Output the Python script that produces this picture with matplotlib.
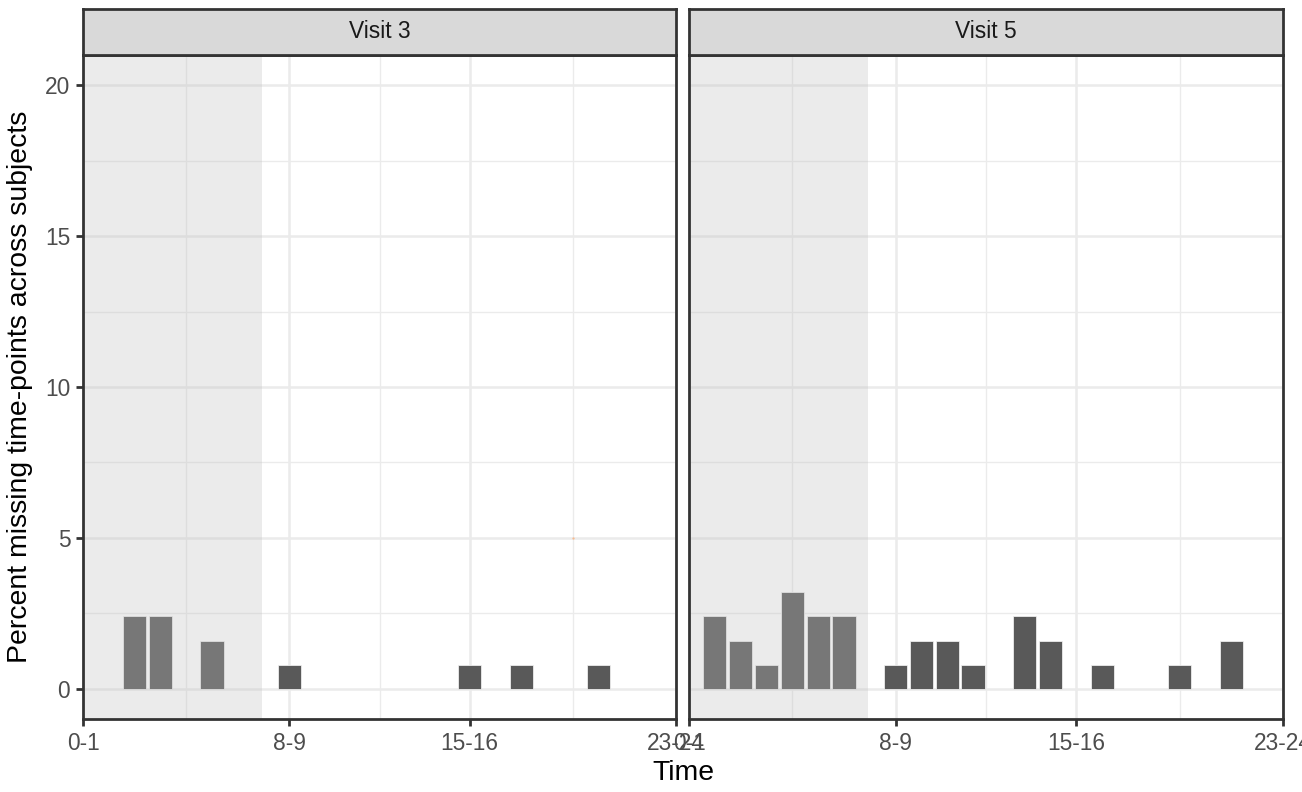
import matplotlib
matplotlib.use("Agg")
import matplotlib.pyplot as plt
import numpy as np

plt.rcParams['font.family'] = ['Liberation Sans', 'DejaVu Sans']

# ---- data ----
panels = ["Visit 3", "Visit 5"]
hours_v3 = [2, 3, 5, 8, 15, 17, 20]
pct_v3 = [2.4, 2.4, 1.6, 0.8, 0.8, 0.8, 0.8]
hours_v5 = [1, 2, 3, 4, 5, 6, 8, 9, 10, 11, 13, 14, 16, 19, 21]
pct_v5 = [2.4, 1.6, 0.8, 3.2, 2.4, 2.4, 0.8, 1.6, 1.6, 0.8, 2.4, 1.6, 0.8, 0.8, 1.6]
tick_hours = [0, 8, 15, 23]
tick_labels = ["0-1", "8-9", "15-16", "23-24"]
minor_hours = [4, 11.5, 19]
shade_end = 6.93
stray_point = (19, 5)

W, H = 1302, 792
DPI = 186
fig = plt.figure(figsize=(W / DPI, H / DPI), dpi=DPI)

def fx(px):
    return px / W

def fy(py):
    return 1 - py / H

grey20 = "#333333"
grey30 = "#4D4D4D"
grey92 = "#EBEBEB"
grey85 = "#D9D9D9"
lw_border = 1.07
panel_x = [(83, 676), (689, 1283)]
ptop, pbot = 55, 719
stop = 9

data = [(hours_v3, pct_v3), (hours_v5, pct_v5)]

for i, (name, (x0, x1), (hrs, vals)) in enumerate(zip(panels, panel_x, data)):
    ax = fig.add_axes([fx(x0), fy(pbot), fx(x1) - fx(x0), fy(ptop) - fy(pbot)])
    ax.set_xlim(0, 23)
    ax.set_ylim(-1, 21)
    ax.set_facecolor("white")
    # grid
    for y in [2.5, 7.5, 12.5, 17.5]:
        ax.axhline(y, color=grey92, lw=0.53, zorder=0.5)
    for y in [0, 5, 10, 15, 20]:
        ax.axhline(y, color=grey92, lw=1.0, zorder=0.6)
    for x in minor_hours:
        ax.axvline(x, color=grey92, lw=0.53, zorder=0.5)
    for x in tick_hours:
        ax.axvline(x, color=grey92, lw=1.0, zorder=0.6)
    # bars
    ax.bar(hrs, vals, width=0.9, color="#595959", edgecolor="#F2F2F2",
           linewidth=0.3, zorder=2)
    # shaded region on top
    ax.axvspan(0, shade_end, color="#BEBEBE", alpha=0.3, lw=0, zorder=3)
    if i == 0:
        ax.scatter([stray_point[0]], [stray_point[1]], s=0.8, color="#F9A66C",
                   alpha=0.7, lw=0, zorder=4)
    ax.set_xticks(tick_hours)
    ax.set_xticklabels(tick_labels)
    ax.set_yticks([0, 5, 10, 15, 20])
    ax.tick_params(axis="both", length=2.75, width=lw_border, color=grey20,
                   labelcolor=grey30, labelsize=8.8, pad=2.2)
    if i == 1:
        ax.tick_params(axis="y", left=False, labelleft=False)
    for s in ax.spines.values():
        s.set_color(grey20)
        s.set_linewidth(lw_border)
        s.set_zorder(5)
    # strip
    sax = fig.add_axes([fx(x0), fy(ptop), fx(x1) - fx(x0), fy(stop) - fy(ptop)])
    sax.set_facecolor(grey85)
    sax.set_xticks([])
    sax.set_yticks([])
    for s in sax.spines.values():
        s.set_color(grey20)
        s.set_linewidth(lw_border)
    sax.text(0.5, 0.5, name, ha="center", va="center", fontsize=8.8,
             color="#1A1A1A", transform=sax.transAxes)

fig.text(fx(683), fy(773), "Time", ha="center", va="center", fontsize=11, color="black")
fig.text(fx(20), fy(387), "Percent missing time-points across subjects", ha="center",
         va="center", rotation=90, fontsize=11, color="black")

fig.savefig("out.png", dpi=DPI)
